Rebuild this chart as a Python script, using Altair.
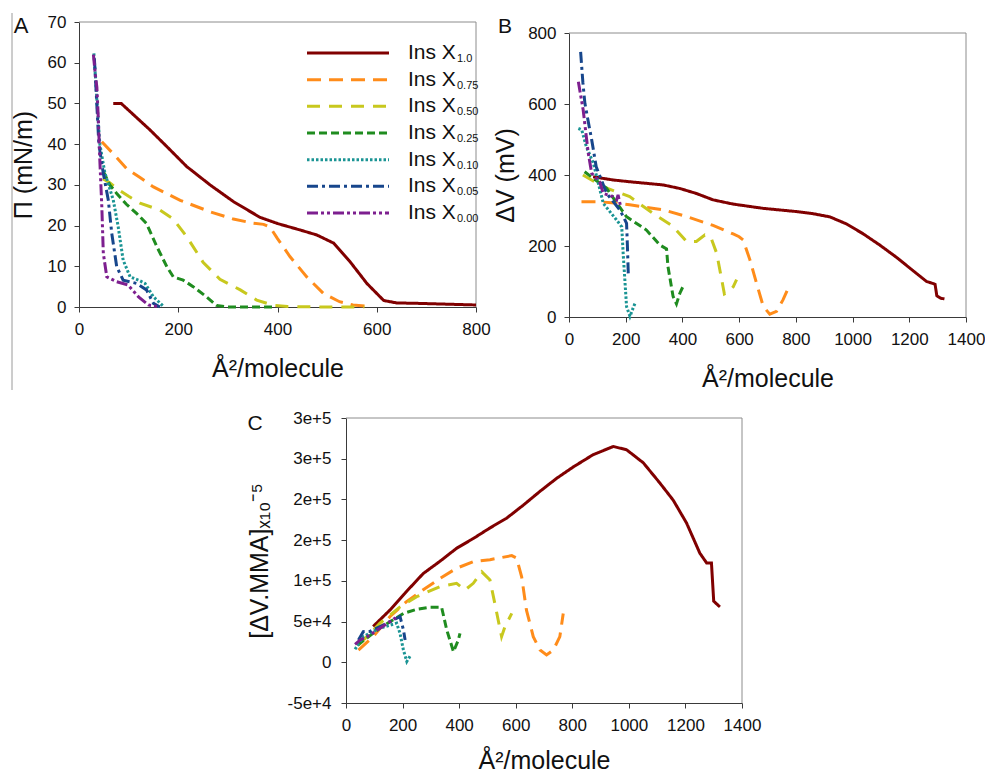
import altair as alt
import pandas as pd

FONT = "Liberation Sans"

series_names = ["Ins X1.0", "Ins X0.75", "Ins X0.50", "Ins X0.25", "Ins X0.10", "Ins X0.05", "Ins X0.00"]
legend_main = ["Ins X"] * 7
legend_sub = ["1.0", "0.75", "0.50", "0.25", "0.10", "0.05", "0.00"]
series_colors = ["#800000", "#ff8c1a", "#c8c81e", "#1f8c1f", "#1a9494", "#17468c", "#7d1f8f"]
series_dashes = [[1, 0], [14, 8], [13, 9], [8, 4], [2.5, 2], [11, 4, 3, 4], [11, 3, 3, 3, 3, 3]]

# ---------------- Panel A : surface pressure (mN/m) vs area ----------------
a10_x = [69, 85, 110, 143, 177, 217, 264, 311, 365, 400, 446, 479, 513, 547, 580, 614, 640, 680, 740, 800]
a10_y = [50, 50, 47.2, 43.5, 39.4, 34.5, 30.0, 25.9, 22.0, 20.5, 18.9, 17.7, 15.7, 11.0, 5.8, 1.6, 1.0, 0.9, 0.7, 0.5]
a075_x = [46, 70, 96, 123, 150, 204, 264, 311, 351, 372, 385, 400, 425, 459, 492, 525, 552, 586]
a075_y = [40.6, 37.5, 34.0, 31.8, 29.5, 26.2, 23.4, 21.6, 20.6, 20.3, 19.6, 16.8, 12.4, 7.4, 3.4, 1.3, 0.5, 0.1]
a050_x = [48, 62, 80, 100, 123, 163, 190, 217, 250, 284, 325, 358, 392, 420, 500, 575]
a050_y = [31.5, 30.5, 28.8, 27.2, 25.5, 23.8, 21.6, 17.3, 11.0, 6.8, 4.2, 1.7, 0.4, 0.1, 0.0, 0.0]
a025_x = [49, 62, 76, 95, 116, 136, 157, 177, 190, 210, 230, 257, 277, 300, 390]
a025_y = [33.3, 30.0, 27.9, 25.3, 23.0, 20.5, 14.8, 9.9, 7.4, 6.6, 5.0, 2.5, 0.4, 0.0, 0.0]
a010_x = [30, 34, 38, 42, 52, 69, 79, 89, 103, 120, 133, 150, 170]
a010_y = [62.3, 55, 47, 40, 33, 26.3, 19.7, 11.5, 7.4, 6.6, 5.8, 2.5, 0.2]
a005_x = [31, 35, 40, 49, 59, 66, 76, 89, 116, 136, 150, 163]
a005_y = [61, 52, 40, 32.8, 26.3, 18.1, 9.9, 6.6, 5.8, 4.2, 0.9, 0.0]
a000_x = [29, 33, 36, 39, 42, 46, 49, 56, 76, 99, 120, 140, 163]
a000_y = [62, 57, 54, 46, 36, 24.6, 13.2, 7.4, 6.2, 5.4, 2.5, 0.5, 0.0]

# ---------------- Panel B : surface potential (mV) vs area ----------------
b10_x = [85, 155, 214, 332, 391, 449, 508, 579, 685, 802, 861, 920, 979, 1038, 1097, 1155, 1214, 1261, 1285, 1291, 1297, 1310, 1324]
b10_y = [395, 386, 381, 372, 362, 348, 330, 318, 306, 297, 291, 282, 262, 234, 202, 168, 130, 100, 94, 92, 60, 53, 51]
b075_x = [44, 96, 150, 214, 332, 414, 508, 579, 600, 614, 638, 661, 685, 708, 732, 755, 773]
b075_y = [325, 325, 322, 316, 302, 283, 258, 234, 226, 217, 161, 96, 30, 8, 16, 49, 81]
b050_x = [49, 120, 214, 296, 367, 414, 449, 479, 500, 521, 535, 548, 560, 579, 591]
b050_y = [400, 367, 339, 292, 255, 213, 213, 231, 225, 179, 120, 65, 70, 85, 105]
b025_x = [55, 132, 202, 273, 320, 344, 349, 367, 379, 391, 402]
b025_y = [409, 363, 283, 245, 203, 192, 142, 58, 37, 67, 86]
b010_x = [33, 45, 61, 86, 121, 167, 186, 191, 203, 215, 226, 233]
b010_y = [531, 527, 480, 433, 320, 274, 254, 179, 29, 2, 25, 39]
b005_x = [41, 49, 56, 68, 80, 96, 133, 180, 203, 206, 209]
b005_y = [747, 660, 602, 550, 499, 423, 348, 301, 264, 200, 123]
b000_x = [33, 50, 68, 80, 108, 121, 155, 168, 173, 181]
b000_y = [663, 583, 461, 405, 381, 348, 339, 330, 344, 315]

# ---------------- Panel C : [dV.MMA] vs area ----------------
c10_x = [96, 155, 214, 273, 332, 391, 450, 509, 568, 627, 686, 745, 804, 874, 945, 992, 1051, 1110, 1157, 1204, 1251, 1275, 1292, 1300, 1322]
c10_y = [44000, 64000, 87000, 109000, 124000, 140000, 152000, 165000, 177000, 193000, 210000, 226000, 240000, 255000, 265000,
         261000, 245000, 220000, 199000, 171000, 134000, 122000, 122000, 75000, 68000]
c075_x = [44, 96, 155, 214, 273, 332, 391, 450, 509, 586, 603, 621, 638, 662, 686, 709, 733, 756, 768]
c075_y = [15000, 31500, 56000, 74500, 89000, 103000, 115500, 123600, 126000, 131000, 128000, 105000, 64000, 31500, 15000,
          9000, 15000, 31500, 60000]
c050_x = [44, 120, 191, 250, 332, 391, 421, 450, 480, 509, 526, 550, 562, 586]
c050_y = [21000, 48000, 68000, 80600, 93000, 97000, 88800, 97000, 111000, 101000, 72500, 31500, 43700, 60000]
c025_x = [40, 120, 203, 250, 297, 338, 356, 380, 397, 403]
c025_y = [21000, 42000, 60000, 65000, 67600, 67600, 40000, 13000, 27400, 35600]
c010_x = [32, 61, 120, 179, 191, 203, 215, 229]
c010_y = [16000, 31500, 42000, 48000, 35600, 15000, 1000, 9000]
c005_x = [44, 61, 85, 132, 191, 203, 209]
c005_y = [27400, 37600, 38000, 45800, 56000, 40000, 27400]
c000_x = [32, 50, 75, 120, 173, 179]
c000_y = [22000, 27400, 31500, 41800, 54000, 56000]

a_ticks_x = [0, 200, 400, 600, 800]
a_ticks_y = [0, 10, 20, 30, 40, 50, 60, 70]
b_ticks_x = [0, 200, 400, 600, 800, 1000, 1200, 1400]
b_ticks_y = [0, 200, 400, 600, 800]
c_ticks_x = [0, 200, 400, 600, 800, 1000, 1200, 1400]
c_ticks_y = [-50000, 0, 50000, 100000, 150000, 200000, 250000, 300000]


def build(xs_list, ys_list):
    rows = []
    for name, xs, ys in zip(series_names, xs_list, ys_list):
        for i, (x, y) in enumerate(zip(xs, ys)):
            rows.append({"series": name, "x": x, "y": y, "idx": i})
    return pd.DataFrame(rows)


dfA = build([a10_x, a075_x, a050_x, a025_x, a010_x, a005_x, a000_x],
            [a10_y, a075_y, a050_y, a025_y, a010_y, a005_y, a000_y])
dfB = build([b10_x, b075_x, b050_x, b025_x, b010_x, b005_x, b000_x],
            [b10_y, b075_y, b050_y, b025_y, b010_y, b005_y, b000_y])
dfC = build([c10_x, c075_x, c050_x, c025_x, c010_x, c005_x, c000_x],
            [c10_y, c075_y, c050_y, c025_y, c010_y, c005_y, c000_y])
leg_df = pd.DataFrame({"series": series_names, "main": legend_main, "sub": legend_sub})
one = pd.DataFrame({"k": [0]})

color_enc = alt.Color("series:N", scale=alt.Scale(domain=series_names, range=series_colors), legend=None)
dash_enc = alt.StrokeDash("series:N", scale=alt.Scale(domain=series_names, range=series_dashes), legend=None)

axc = dict(domainColor="#3a3a3a", tickColor="#3a3a3a", tickSize=5, labelFont=FONT, labelFontSize=17,
           labelColor="#111111", titleFont=FONT, titleFontSize=25, titleFontWeight="normal",
           titleColor="#111111", grid=False, labelOverlap=False, labelFlush=False)


def lines(df, xdom, xrng, xvals, xoff, xtitle_x, xtitle_y, ydom, yrng, yvals, yoff, ytitle, ytitle_x,
          ylabpad, ylabexpr=None):
    yaxis_kw = dict(orient="left", offset=yoff, values=yvals, title=ytitle, titleX=ytitle_x,
                    titleY=(yrng[0] + yrng[1]) / 2, titleAngle=-90, titleBaseline="middle",
                    titleAlign="center", labelPadding=ylabpad, **axc)
    if ylabexpr:
        yaxis_kw["labelExpr"] = ylabexpr
    else:
        yaxis_kw["format"] = "d"
    return alt.Chart(df).mark_line(strokeWidth=3).encode(
        x=alt.X("x:Q", scale=alt.Scale(domain=xdom, range=xrng, nice=False, zero=False),
                axis=alt.Axis(orient="bottom", offset=xoff, values=xvals, format="d", title="Å²/molecule",
                              titleX=xtitle_x, titleY=xtitle_y, titleBaseline="alphabetic", titleAlign="center",
                              labelPadding=9, **axc)),
        y=alt.Y("y:Q", scale=alt.Scale(domain=ydom, range=yrng, nice=False, zero=False),
                axis=alt.Axis(**yaxis_kw)),
        color=color_enc,
        strokeDash=dash_enc,
        order=alt.Order("idx:Q"),
    )


def rule(x1, x2, y1, y2, color="#8c8c8c"):
    return alt.Chart(one).mark_rule(color=color, strokeWidth=1).encode(
        x=alt.value(x1), x2=alt.value(x2), y=alt.value(y1), y2=alt.value(y2))


def label(t, x, y, size=22):
    return alt.Chart(one).mark_text(text=t, font=FONT, fontSize=size, color="#111111",
                                    align="center", baseline="alphabetic").encode(
        x=alt.value(x), y=alt.value(y))


lines_a = lines(dfA, [0, 800], [79, 476], a_ticks_x, -468, 277.5, 69,
                [0, 70], [307, 22], a_ticks_y, -79, "Π (mN/m)", -56, 8)
lines_b = lines(dfB, [0, 1400], [569, 966], b_ticks_x, -458, 767.5, 69,
                [0, 800], [317, 33], b_ticks_y, -569, "ΔV (mV)", -64, 8)
lines_c = lines(dfC, [0, 1400], [346, 742], c_ticks_x, -72, 544, 65,
                [-50000, 300000], [703, 418], c_ticks_y, -346, "[ΔV.MMA]ₓ₁₀⁻⁵", -87, 10,
                "datum.value == 0 ? '0' : (datum.value < 0 ? '-' : '') + format(abs(datum.value), '.0e')")

leg_y = alt.Y("series:N", scale=alt.Scale(type="point", domain=series_names, range=[53, 213], padding=0), axis=None)
leg_rule = alt.Chart(leg_df).mark_rule(strokeWidth=3).encode(
    x=alt.value(307), x2=alt.value(389), y=leg_y, color=color_enc, strokeDash=dash_enc)
leg_text = alt.Chart(leg_df).mark_text(align="left", baseline="middle", font=FONT, fontSize=21,
                                       color="#111111").encode(x=alt.value(408), y=leg_y, text="main:N")
leg_sub = alt.Chart(leg_df).mark_text(align="left", baseline="middle", font=FONT, fontSize=11, dy=6,
                                      color="#111111").encode(x=alt.value(457), y=leg_y, text="sub:N")

borders = [
    rule(12, 12, 13, 390, "#9a9a9a"),
    rule(79, 476, 22, 22), rule(476, 476, 22, 307),
    rule(569, 966, 33, 33), rule(966, 966, 33, 317),
    rule(346, 742, 418, 418), rule(742, 742, 418, 703),
]

chart = alt.layer(
    *borders,
    lines_a, lines_b, lines_c,
    leg_rule, leg_text, leg_sub,
    label("A", 21, 33), label("B", 505, 33, 21), label("C", 255, 430, 21),
).resolve_scale(x="independent", y="independent").properties(
    width=985, height=775, padding=0, autosize=alt.AutoSizeParams(type="none"), background="white"
).configure_view(strokeWidth=0)

chart.save("out.html", embed_options={"renderer": "svg", "actions": False})
